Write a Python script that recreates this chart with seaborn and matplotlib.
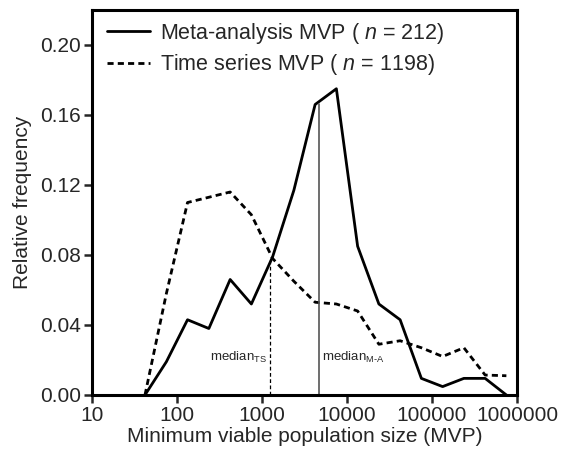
import matplotlib
matplotlib.use("Agg")
import matplotlib.pyplot as plt
import seaborn as sns
import pandas as pd
from matplotlib.lines import Line2D

# Bin centres (MVP, log-spaced quarter decades)
mvp_bins = [42, 75, 133, 237, 422, 750, 1334, 2371, 4217, 7499,
            13335, 23714, 42170, 74989, 133352, 237137, 421697, 749894]
meta_freq = [0.0, 0.019, 0.043, 0.038, 0.066, 0.052, 0.079, 0.117, 0.166, 0.175,
             0.085, 0.052, 0.043, 0.0095, 0.0048, 0.0095, 0.0095, 0.0]
ts_freq = [0.0, 0.058, 0.110, 0.113, 0.116, 0.103, 0.078, 0.065, 0.053, 0.052,
           0.048, 0.029, 0.031, 0.027, 0.022, 0.027, 0.0114, 0.011]

median_ts = 1240
median_ts_top = 0.078
median_ma = 4680
median_ma_top = 0.166

x_ticks = [10, 100, 1000, 10000, 100000, 1000000]
x_tick_labels = ["10", "100", "1000", "10000", "100000", "1000000"]
y_ticks = [0.00, 0.04, 0.08, 0.12, 0.16, 0.20]
y_tick_labels = ["0.00", "0.04", "0.08", "0.12", "0.16", "0.20"]

labels = ["Meta-analysis MVP ( $n$ = 212)", "Time series MVP ( $n$ = 1198)"]

sns.set_style("ticks")
plt.rcParams['font.family'] = ['Liberation Sans', 'DejaVu Sans']
plt.rcParams['mathtext.fontset'] = 'custom'
plt.rcParams['mathtext.rm'] = 'Liberation Sans'
plt.rcParams['mathtext.it'] = 'Liberation Sans:italic'

df = pd.DataFrame({
    "MVP": mvp_bins * 2,
    "freq": meta_freq + ts_freq,
    "series": ["meta"] * len(mvp_bins) + ["ts"] * len(mvp_bins),
})

fig = plt.figure(figsize=(5.68, 4.54), dpi=100)
ax = fig.add_axes([92/568, 1-395/454, (517-92)/568, (395-10)/454])

sns.lineplot(data=df[df.series == "meta"], x="MVP", y="freq", ax=ax,
             color="black", lw=2.0, estimator=None)
sns.lineplot(data=df[df.series == "ts"], x="MVP", y="freq", ax=ax,
             color="black", lw=2.0, estimator=None, linestyle=(0, (2.2, 1.5)))

ax.set_xscale("log")
ax.set_xlim(10, 1000000)
ax.set_ylim(0, 0.22)

ax.plot([median_ts, median_ts], [0, median_ts_top], color="black", lw=0.9,
        linestyle=(0, (3, 2)))
ax.plot([median_ma, median_ma], [0, median_ma_top], color="#555555", lw=1.2)
ax.text(median_ts * 0.93, 0.017, r"median$_{\mathrm{TS}}$", ha="right",
        va="bottom", fontsize=9.5)
ax.text(median_ma * 1.08, 0.017, r"median$_{\mathrm{M\text{-}A}}$", ha="left",
        va="bottom", fontsize=9.5)

ax.set_xticks(x_ticks)
ax.set_xticklabels(x_tick_labels)
ax.xaxis.set_minor_locator(matplotlib.ticker.NullLocator())
ax.set_yticks(y_ticks)
ax.set_yticklabels(y_tick_labels)
ax.tick_params(axis="both", direction="out", length=6, width=1.8,
               labelsize=15, pad=2)

for s in ax.spines.values():
    s.set_linewidth(2.2)
    s.set_color("black")

ax.set_xlabel("Minimum viable population size (MVP)", fontsize=15, labelpad=1)
ax.set_ylabel("Relative frequency", fontsize=15, labelpad=6)

handles = [Line2D([], [], color="black", lw=2.0),
           Line2D([], [], color="black", lw=2.0, linestyle=(0, (2.2, 1.5)))]
ax.legend(handles, labels, loc="upper left", frameon=False, fontsize=15.5,
          handlelength=2.0, handletextpad=0.45, borderaxespad=0.1,
          bbox_to_anchor=(0.01, 1.0), labelspacing=0.3)

fig.savefig("out.png", dpi=100)
